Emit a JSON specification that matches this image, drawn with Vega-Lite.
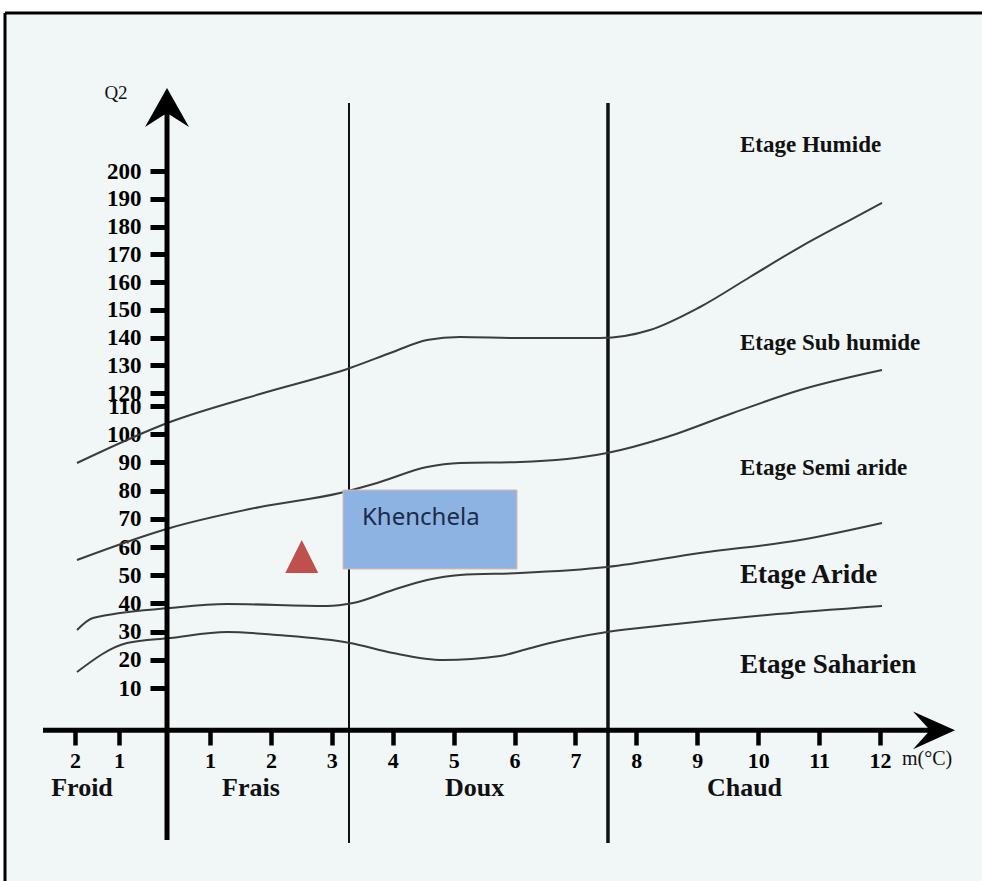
{
  "$schema": "https://vega.github.io/schema/vega-lite/v6.json",
  "width": 977,
  "height": 868,
  "autosize": {"type": "none"},
  "padding": {"left": 5, "top": 13, "right": 0, "bottom": 0},
  "background": "#ffffff",
  "config": {"view": {"fill": "#f1f6f6", "stroke": null}},
  "encoding": {
    "x": {
      "field": "m",
      "type": "quantitative",
      "scale": {"domain": [-3.591, -2, -1, 0, 1, 12, 13.675], "range": [0, 70, 114, 162, 205, 875, 977], "nice": false, "zero": false},
      "axis": {
        "orient": "bottom",
        "offset": -151,
        "title": null,
        "domain": false,
        "grid": false,
        "values": [-2, -1, 1, 2, 3, 4, 5, 6, 7, 8, 9, 10, 11, 12],
        "labelExpr": "abs(datum.value)",
        "tickSize": 15,
        "tickWidth": 4.5,
        "tickColor": "#000000",
        "labelFont": "Liberation Serif",
        "labelFontWeight": "bold",
        "labelFontSize": 22,
        "labelColor": "#000000",
        "labelBaseline": "alphabetic",
        "labelPadding": 22,
        "labelFlush": false,
        "labelOverlap": false
      }
    },
    "y": {
      "field": "q",
      "type": "quantitative",
      "scale": {"domain": [-58.44, 10, 110, 120, 200, 256.94], "range": [868, 675, 393, 380, 158, 0], "nice": false, "zero": false},
      "axis": {
        "orient": "left",
        "offset": -162,
        "title": null,
        "domain": false,
        "grid": false,
        "values": [10, 20, 30, 40, 50, 60, 70, 80, 90, 100, 110, 120, 130, 140, 150, 160, 170, 180, 190, 200],
        "tickSize": 17,
        "tickWidth": 5,
        "tickColor": "#000000",
        "labelFont": "Liberation Serif",
        "labelFontWeight": "bold",
        "labelFontSize": 23,
        "labelColor": "#000000",
        "labelPadding": 9,
        "labelFlush": false,
        "labelOverlap": false
      }
    }
  },
  "layer": [
    {
      "data": {"values": [{"m": -3.591, "q": -58.44, "q2": 256.94}]},
      "mark": {"type": "rule", "color": "#000000", "strokeWidth": 3},
      "encoding": {"y2": {"field": "q2"}}
    },
    {
      "data": {"values": [{"m": -3.591, "m2": 13.675, "q": 256.94}]},
      "mark": {"type": "rule", "color": "#000000", "strokeWidth": 3},
      "encoding": {"x2": {"field": "m2"}}
    },
    {
      "data": {"values": [{"m": 3.282, "q": -44.96, "q2": 224.5}]},
      "mark": {"type": "rule", "color": "#111111", "strokeWidth": 2},
      "encoding": {"y2": {"field": "q2"}}
    },
    {
      "data": {"values": [{"m": 7.534, "q": -44.96, "q2": 224.5}]},
      "mark": {"type": "rule", "color": "#111111", "strokeWidth": 3.5},
      "encoding": {"y2": {"field": "q2"}}
    },
    {
      "data": {"values": [
        {"curve": "c1", "m": -1.955, "q": 89.79}, {"curve": "c1", "m": 0.070, "q": 104.33}, {"curve": "c1", "m": 1.821, "q": 119.23},
        {"curve": "c1", "m": 3.299, "q": 129.01}, {"curve": "c1", "m": 4.004, "q": 134.77}, {"curve": "c1", "m": 4.563, "q": 139.10},
        {"curve": "c1", "m": 5.104, "q": 140.18}, {"curve": "c1", "m": 6.090, "q": 139.82}, {"curve": "c1", "m": 7.403, "q": 139.82},
        {"curve": "c1", "m": 8.224, "q": 142.70}, {"curve": "c1", "m": 9.045, "q": 150.99}, {"curve": "c1", "m": 9.866, "q": 161.80},
        {"curve": "c1", "m": 10.687, "q": 172.61}, {"curve": "c1", "m": 11.507, "q": 182.34}, {"curve": "c1", "m": 12.033, "q": 188.47},
        {"curve": "c2", "m": -1.955, "q": 55.39}, {"curve": "c2", "m": 0.070, "q": 66.74}, {"curve": "c2", "m": 1.821, "q": 74.18},
        {"curve": "c2", "m": 3.134, "q": 79.15}, {"curve": "c2", "m": 3.742, "q": 82.70}, {"curve": "c2", "m": 4.563, "q": 88.37},
        {"curve": "c2", "m": 5.104, "q": 89.79}, {"curve": "c2", "m": 6.090, "q": 90.14}, {"curve": "c2", "m": 7.518, "q": 93.33},
        {"curve": "c2", "m": 8.503, "q": 99.01}, {"curve": "c2", "m": 9.587, "q": 107.52}, {"curve": "c2", "m": 10.687, "q": 121.08},
        {"curve": "c2", "m": 12.033, "q": 128.29},
        {"curve": "c3", "m": -1.955, "q": 30.57}, {"curve": "c3", "m": -1.591, "q": 34.82}, {"curve": "c3", "m": 0.070, "q": 38.37},
        {"curve": "c3", "m": 1.279, "q": 39.79}, {"curve": "c3", "m": 2.921, "q": 39.08}, {"curve": "c3", "m": 3.348, "q": 40.14},
        {"curve": "c3", "m": 4.004, "q": 44.75}, {"curve": "c3", "m": 4.563, "q": 48.30}, {"curve": "c3", "m": 5.104, "q": 50.07},
        {"curve": "c3", "m": 6.090, "q": 50.78}, {"curve": "c3", "m": 7.518, "q": 52.91}, {"curve": "c3", "m": 9.045, "q": 57.87},
        {"curve": "c3", "m": 10.687, "q": 62.48}, {"curve": "c3", "m": 12.033, "q": 68.51},
        {"curve": "c4", "m": -1.955, "q": 15.67}, {"curve": "c4", "m": -0.833, "q": 25.96}, {"curve": "c4", "m": 0.070, "q": 27.73},
        {"curve": "c4", "m": 1.279, "q": 29.86}, {"curve": "c4", "m": 2.100, "q": 28.79}, {"curve": "c4", "m": 3.299, "q": 25.96},
        {"curve": "c4", "m": 4.004, "q": 22.41}, {"curve": "c4", "m": 4.825, "q": 19.93}, {"curve": "c4", "m": 5.761, "q": 21.35},
        {"curve": "c4", "m": 6.090, "q": 23.12}, {"curve": "c4", "m": 6.582, "q": 25.96},
        {"curve": "c4", "m": 7.518, "q": 29.86}, {"curve": "c4", "m": 8.503, "q": 32.34}, {"curve": "c4", "m": 10.145, "q": 35.89},
        {"curve": "c4", "m": 12.033, "q": 39.08}
      ]},
      "mark": {"type": "line", "interpolate": "monotone", "color": "#3c3c3c", "strokeWidth": 2},
      "encoding": {"detail": {"field": "curve"}}
    },
    {
      "data": {"values": [{"m": 3.184, "m2": 6.040, "q": 80.21, "q2": 52.20}]},
      "mark": {"type": "rect", "fill": "#8db3e2", "stroke": "#e3b5ab", "strokeWidth": 1},
      "encoding": {"x2": {"field": "m2"}, "y2": {"field": "q2"}}
    },
    {
      "data": {"values": [{"m": 3.4955, "q": 67.8, "label": "Khenchela"}]},
      "mark": {"type": "text", "align": "left", "baseline": "alphabetic", "font": "Noto Sans", "fontSize": 24, "color": "#1b2b4a"},
      "encoding": {"text": {"field": "label"}}
    },
    {
      "data": {"values": [{"m": 2.506, "q": 56.63}]},
      "mark": {"type": "point", "shape": "M0,-1L1,1L-1,1Z", "size": 1089, "filled": true, "fill": "#c0504d", "opacity": 1, "strokeWidth": 0},
      "encoding": {}
    },
    {
      "data": {"values": [{"m": 0, "q": -43.9, "q2": 225}]},
      "mark": {"type": "rule", "color": "#000000", "strokeWidth": 5},
      "encoding": {"y2": {"field": "q2"}}
    },
    {
      "data": {"values": [{"m": -2.727, "m2": 12.9, "q": -5}]},
      "mark": {"type": "rule", "color": "#000000", "strokeWidth": 5},
      "encoding": {"x2": {"field": "m2"}}
    },
    {
      "data": {"values": [{"m": 0, "q": 222.7}]},
      "mark": {"type": "point", "shape": "M0,-0.91L1,0.86L0,0.23L-1,0.86Z", "size": 1936, "filled": true, "fill": "#000000", "opacity": 1, "strokeWidth": 0},
      "encoding": {}
    },
    {
      "data": {"values": [{"m": 12.887, "q": -5}]},
      "mark": {"type": "point", "shape": "M1,0L-1,-0.9L-0.19,0L-1,0.9Z", "size": 1764, "filled": true, "fill": "#000000", "opacity": 1, "strokeWidth": 0},
      "encoding": {}
    },
    {
      "data": {"values": [
        {"m": 9.701, "q": 206.95, "label": "Etage Humide"},
        {"m": 9.701, "q": 135.5, "label": "Etage Sub humide"},
        {"m": 9.701, "q": 85.53, "label": "Etage Semi aride"}
      ]},
      "mark": {"type": "text", "align": "left", "baseline": "alphabetic", "font": "Liberation Serif", "fontWeight": "bold", "fontSize": 23, "color": "#111111"},
      "encoding": {"text": {"field": "label"}}
    },
    {
      "data": {"values": [
        {"m": 9.701, "q": 47.23, "label": "Etage Aride"},
        {"m": 9.701, "q": 15.32, "label": "Etage Saharien"}
      ]},
      "mark": {"type": "text", "align": "left", "baseline": "alphabetic", "font": "Liberation Serif", "fontWeight": "bold", "fontSize": 27, "color": "#111111"},
      "encoding": {"text": {"field": "label"}}
    },
    {
      "data": {"values": [
        {"m": -1.841, "q": -28.3, "label": "Froid"},
        {"m": 1.673, "q": -28.3, "label": "Frais"},
        {"m": 5.343, "q": -28.3, "label": "Doux"},
        {"m": 9.775, "q": -28.3, "label": "Chaud"}
      ]},
      "mark": {"type": "text", "align": "center", "baseline": "alphabetic", "font": "Liberation Serif", "fontWeight": "bold", "fontSize": 26, "color": "#111111"},
      "encoding": {"text": {"field": "label"}}
    },
    {
      "data": {"values": [{"m": 12.361, "q": -17.3, "label": "m(°C)"}]},
      "mark": {"type": "text", "align": "left", "baseline": "alphabetic", "font": "Liberation Serif", "fontSize": 20, "color": "#111111"},
      "encoding": {"text": {"field": "label"}}
    },
    {
      "data": {"values": [{"m": -1.068, "q": 225.95, "label": "Q2"}]},
      "mark": {"type": "text", "align": "center", "baseline": "alphabetic", "font": "Liberation Serif", "fontSize": 19, "color": "#111111"},
      "encoding": {"text": {"field": "label"}}
    }
  ]
}
